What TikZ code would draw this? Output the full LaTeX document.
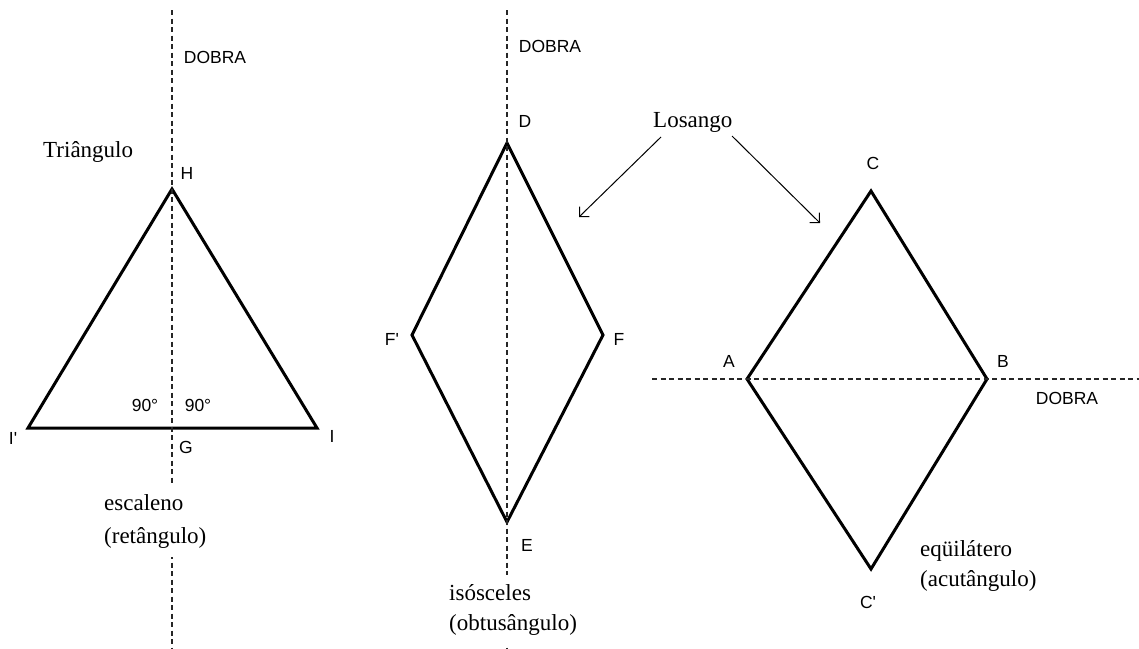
\documentclass[tikz,border=0pt]{standalone}
\usepackage{fontspec}
\setmainfont{Liberation Serif}
\newfontfamily\labfont{Liberation Sans}
\usetikzlibrary{arrows.meta}
\begin{document}
\begin{tikzpicture}[x=1pt,y=-1pt,
  fold/.style={draw=black!85,line width=1.4pt,dash pattern=on 5pt off 3.5pt},
  figline/.style={draw=black,line width=3pt,line join=miter},
  lab/.style={font=\labfont\fontsize{17.5}{20}\selectfont,inner sep=0pt},
  word/.style={font=\fontsize{23}{30}\selectfont,inner sep=0pt,anchor=base west},
  cover/.style={fill=white,inner xsep=2pt,inner ysep=9pt},
  pointer/.style={draw=black,line width=1pt,-{Straight Barb[length=7pt,width=14pt,line width=1pt]}}]
\useasboundingbox (0,0) rectangle (1139,648);

% ---- left: triangle ----
\coordinate (Ht) at (172,189);
\coordinate (It) at (317,428);
\coordinate (Ip) at (28,428);
\coordinate (Gt) at (172,428);
\coordinate (f1a) at (172,10);
\coordinate (f1b) at (172,648);
\draw[figline] (Ht) -- (It) -- (Ip) -- cycle;
\draw[fold] (f1a) -- (f1b);

% ---- middle: rhombus DFEF' ----
\coordinate (D) at (507,143);
\coordinate (F) at (603,335);
\coordinate (E) at (507,522);
\coordinate (Fp) at (412,335);
\coordinate (f2a) at (507,10);
\coordinate (f2b) at (507,648);
\draw[figline] (D) -- (F) -- (E) -- (Fp) -- cycle;
\draw[fold] (f2a) -- (f2b);

% ---- right: rhombus ACBC' ----
\coordinate (C) at (871,191);
\coordinate (B) at (987,379);
\coordinate (Cp) at (871,569);
\coordinate (A) at (747,379);
\coordinate (f3a) at (652,379);
\coordinate (f3b) at (1139,379);
\draw[figline] (C) -- (B) -- (Cp) -- (A) -- cycle;
\draw[fold] (f3a) -- (f3b);

% ---- labels ----
\node[lab] (dob1) at (215,57) {DOBRA};
\node[lab] (dob2) at (550,46) {DOBRA};
\node[lab] (dob3) at (1067,398) {DOBRA};
\node[lab] (lH) at (187,173) {H};
\node[lab] (lIp) at (13,438) {I'};
\node[lab] (lI) at (332,436) {I};
\node[lab] (lG) at (186,447) {G};
\node[lab] (a1) at (145,405) {90°};
\node[lab] (a2) at (198,405) {90°};
\node[lab] (lD) at (525,121) {D};
\node[lab] (lFp) at (392,339) {F'};
\node[lab] (lF) at (619,339) {F};
\node[lab] (lE) at (527,545) {E};
\node[lab] (lC) at (873,163) {C};
\node[lab] (lA) at (729,361) {A};
\node[lab] (lB) at (1003,361) {B};
\node[lab] (lCp) at (868,602) {C'};

\node[word] (tri) at (43,157) {Triângulo};
\node[word,cover] (esc) at (102,510) {escaleno};
\node[word,cover] (ret) at (102,543) {(retângulo)};
\node[word,cover] (iso) at (447,600) {isósceles};
\node[word,cover] (obt) at (447,630) {(obtusângulo)};
\node[word] (equ) at (920,556) {eqüilátero};
\node[word] (acu) at (920,586) {(acutângulo)};
\node[word] (los) at (653,127) {Losango};

% ---- pointers ----
\coordinate (p1s) at (661,137);
\coordinate (p1e) at (579,217);
\coordinate (p2s) at (732,136);
\coordinate (p2e) at (820,223);
\draw[pointer] (p1s) -- (p1e);
\draw[pointer] (p2s) -- (p2e);
\end{tikzpicture}
\end{document}
